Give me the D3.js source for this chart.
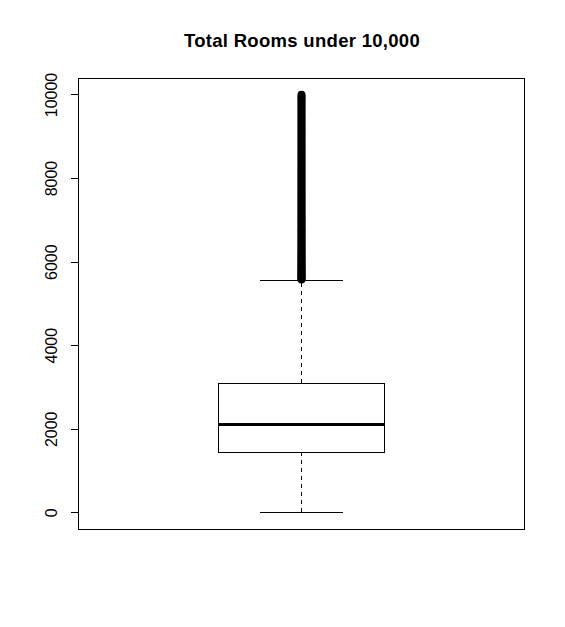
<!DOCTYPE html>
<html>
<head>
    <meta charset="utf-8" />
    <title>Total Rooms under 10,000</title>
    <style>
        body { margin: 0; background: #fff; }
        svg text { font-family: "Liberation Sans", Arial, sans-serif; }
        .crisp line, .crisp rect, .crisp path { shape-rendering: crispEdges; }
    </style>
    <script src="https://d3js.org/d3.v7.min.js"></script>
</head>
<body>
<div id="chart"></div>
<script>
    // box statistics
    const title = "Total Rooms under 10,000";
    const stats = { lower: 2, q1: 1440, median: 2105, q3: 3090, upper: 5555 };
    const tickValues = [0, 2000, 4000, 6000, 8000, 10000];

    // outliers above the upper whisker (dense enough to merge into a bar)
    const outliers = [
        5572, 5590, 5611, 5634, 5650, 5677, 5702, 5719, 5745, 5771,
        5798, 5820, 5851, 5879, 5903, 5934, 5960, 5992, 6021, 6050,
        6083, 6112, 6140, 6176, 6205, 6238, 6270, 6301, 6339, 6372,
        6404, 6441, 6470, 6508, 6543, 6577, 6610, 6648, 6682, 6719,
        6751, 6790, 6826, 6860, 6901, 6935, 6972, 7010, 7046, 7083,
        7121, 7160, 7198, 7232, 7270, 7312, 7350, 7389, 7426, 7468,
        7505, 7544, 7583, 7620, 7662, 7701, 7740, 7781, 7820, 7861,
        7900, 7942, 7980, 8021, 8062, 8101, 8144, 8183, 8225, 8264,
        8306, 8347, 8389, 8430, 8470, 8512, 8553, 8596, 8638, 8679,
        8720, 8764, 8805, 8847, 8890, 8931, 8975, 9016, 9060, 9101,
        9143, 9187, 9230, 9272, 9315, 9358, 9400, 9445, 9487, 9530,
        9573, 9616, 9660, 9702, 9745, 9790, 9832, 9874, 9917, 9950,
        9995
    ];

    const width = 565, height = 627;
    const margin = { top: 78, right: 41, bottom: 98, left: 78 };
    const plotW = width - margin.left - margin.right;
    const plotH = height - margin.top - margin.bottom;

    const lo = stats.lower, hi = d3.max(outliers);
    const pad = (hi - lo) * 0.04;

    const y = d3.scaleLinear().domain([lo - pad, hi + pad]).range([margin.top + plotH, margin.top]);
    const x = d3.scaleLinear().domain([0.46, 1.54]).range([margin.left, margin.left + plotW]);

    const svg = d3.select("#chart").append("svg")
        .attr("width", width)
        .attr("height", height);

    svg.append("rect")
        .attr("width", width).attr("height", height)
        .attr("fill", "#fff");

    // title
    svg.append("text")
        .attr("x", margin.left + plotW / 2 + 1)
        .attr("y", 47)
        .attr("text-anchor", "middle")
        .attr("font-size", "18.5px")
        .attr("font-weight", "bold")
        .attr("letter-spacing", "0.3px")
        .text(title);

    // plot frame
    svg.append("rect")
        .attr("x", margin.left + 0.5)
        .attr("y", margin.top + 0.5)
        .attr("width", plotW)
        .attr("height", plotH)
        .attr("fill", "none")
        .attr("stroke", "#000")
        .attr("stroke-width", 1);

    // y axis
    const yAxis = svg.append("g")
        .attr("class", "crisp")
        .attr("transform", `translate(${margin.left + 0.5},0)`)
        .call(d3.axisLeft(y).tickValues(tickValues).tickSize(8).tickFormat(d3.format("d")));
    yAxis.select(".domain")
        .attr("d", `M0,${y(tickValues[0])}V${y(tickValues[tickValues.length - 1])}`)
        .attr("stroke", "#000");
    yAxis.selectAll(".tick line").attr("stroke", "#000");
    yAxis.selectAll(".tick text")
        .attr("transform", "rotate(-90)")
        .attr("x", 0)
        .attr("y", -22)
        .attr("dy", 0)
        .attr("text-anchor", "middle")
        .attr("font-size", "16px")
        .attr("font-family", "Liberation Sans, Arial, sans-serif")
        .attr("fill", "#000");

    const cx = x(1) + 0.5;
    const boxW = x(1.2) - x(0.8);
    const capW = x(1.1) - x(0.9);
    const g = svg.append("g").attr("stroke", "#000").attr("fill", "none");
    const gl = g.append("g").attr("class", "crisp");

    // whiskers (dashed)
    gl.append("line")
        .attr("x1", cx).attr("x2", cx)
        .attr("y1", y(stats.q3)).attr("y2", y(stats.upper))
        .attr("stroke-dasharray", "4,4");
    gl.append("line")
        .attr("x1", cx).attr("x2", cx)
        .attr("y1", y(stats.q1)).attr("y2", y(stats.lower))
        .attr("stroke-dasharray", "4,4");

    // caps
    [stats.lower, stats.upper].forEach(v => {
        gl.append("line")
            .attr("x1", cx - capW / 2).attr("x2", cx + capW / 2)
            .attr("y1", y(v)).attr("y2", y(v));
    });

    // box
    gl.append("rect")
        .attr("x", cx - boxW / 2)
        .attr("y", y(stats.q3))
        .attr("width", boxW)
        .attr("height", y(stats.q1) - y(stats.q3))
        .attr("fill", "#fff");

    // median
    gl.append("line")
        .attr("x1", cx - boxW / 2).attr("x2", cx + boxW / 2)
        .attr("y1", y(stats.median)).attr("y2", y(stats.median))
        .attr("stroke-width", 3);

    // outliers
    g.selectAll("circle.out")
        .data(outliers)
        .join("circle")
        .attr("class", "out")
        .attr("cx", cx)
        .attr("cy", d => y(d))
        .attr("r", 3)
        .attr("stroke-width", 2);
</script>
</body>
</html>
